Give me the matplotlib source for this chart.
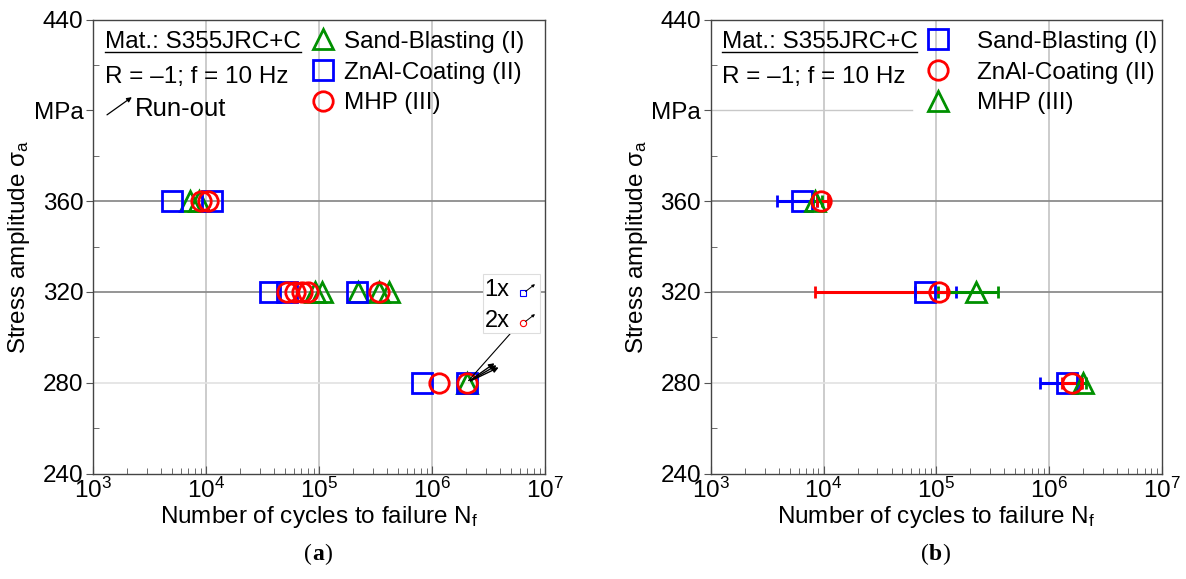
import numpy as np
import matplotlib
matplotlib.use("Agg")
import matplotlib.pyplot as plt
from matplotlib.lines import Line2D
from matplotlib.ticker import FixedLocator, LogLocator, NullFormatter
from matplotlib.offsetbox import TextArea, HPacker, AnchoredOffsetbox

plt.rcParams['font.family'] = ['Liberation Sans', 'DejaVu Sans']
plt.rcParams['mathtext.fontset'] = 'custom'
plt.rcParams['mathtext.rm'] = 'Liberation Sans'
plt.rcParams['mathtext.it'] = 'Liberation Sans'

# ---------------- data: panel (a) individual tests ----------------
a_sb_N = [7.2e3, 8.7e3, 9.2e4, 1.06e5, 2.22e5, 3.41e5, 4.18e5, 2.03e6]
a_sb_S = [360, 360, 320, 320, 320, 320, 320, 280]
a_zn_N = [5.0e3, 1.12e4, 3.68e4, 5.17e4, 2.15e5, 8.1e5, 2.03e6]
a_zn_S = [360, 360, 320, 320, 320, 280, 280]
a_mhp_N = [9.0e3, 1.05e4, 5.17e4, 6.14e4, 7.03e4, 8.04e4, 3.41e5, 1.16e6, 2.03e6]
a_mhp_S = [360, 360, 320, 320, 320, 320, 320, 280, 280]
runout_N = [2.03e6, 2.03e6, 2.03e6]
runout_S = [280, 280, 280]

# ---------------- data: panel (b) mean values with scatter ----------------
b_levels = [360, 320, 280]
b_sb_mean = [6.4e3, 7.9e4, 1.43e6]
b_sb_lo = [3.85e3, 6.5e4, 8.2e5]
b_sb_hi = [8.7e3, 1.5e5, 1.87e6]
b_zn_mean = [9.5e3, 1.06e5, 1.59e6]
b_zn_lo = [8.7e3, 8.4e3, 1.30e6]
b_zn_hi = [1.1e4, 1.25e5, 1.97e6]
b_mhp_mean = [8.4e3, 2.25e5, 2.0e6]
b_mhp_lo = [8.0e3, 1.04e5, 1.9e6]
b_mhp_hi = [9.6e3, 3.5e5, 2.1e6]

y_ticks = [240, 280, 320, 360, 400, 440]
y_ticklabels = ['240', '280', '320', '360', 'MPa', '440']

GREEN = '#009000'
BLUE = '#0000ff'
RED = '#ff0000'

FS_TICK = 17.5
FS_LABEL = 17.5
FS_TXT = 17.5
FS_LEG = 17.5

fig = plt.figure(figsize=(11.86, 5.79), dpi=100)
axA = fig.add_axes([0.0784, 0.1822, 0.3811, 0.7841])
axB = fig.add_axes([0.5993, 0.1822, 0.3805, 0.7841])

MS = 14
MEW = 2.0


def style_axes(ax):
    ax.set_xscale('log')
    ax.set_xlim(1e3, 1e7)
    ax.set_ylim(240, 440)
    ax.yaxis.set_major_locator(FixedLocator(y_ticks))
    ax.set_yticklabels(y_ticklabels)
    ax.yaxis.set_minor_locator(FixedLocator([260, 300, 340, 380, 420]))
    ax.xaxis.set_major_locator(LogLocator(base=10, numticks=10))
    ax.xaxis.set_minor_locator(LogLocator(base=10, subs=np.arange(2, 10), numticks=20))
    ax.xaxis.set_minor_formatter(NullFormatter())
    ax.tick_params(axis='both', which='major', labelsize=FS_TICK, color='#555555')
    ax.tick_params(axis='y', which='major', direction='out', length=5, pad=2)
    ax.tick_params(axis='y', which='minor', direction='in', length=4, color='#555555')
    ax.tick_params(axis='x', which='major', direction='in', length=6, pad=3)
    ax.tick_params(axis='x', which='minor', direction='in', length=4, color='#555555')
    for s in ax.spines.values():
        s.set_color('#444444')
        s.set_linewidth(1.0)
    for xv in [1e4, 1e5, 1e6]:
        ax.axvline(xv, color='#c8c8c8', lw=1.3, zorder=0)
    ax.axhline(360, color='#8c8c8c', lw=1.3, zorder=0)
    ax.axhline(320, color='#8c8c8c', lw=1.3, zorder=0)
    ax.axhline(280, color='#e2e2e2', lw=1.2, zorder=0)
    ax.set_xlabel('Number of cycles to failure N$_\\mathrm{f}$', fontsize=FS_LABEL, labelpad=1)
    ax.set_ylabel('Stress amplitude σ$_\\mathrm{a}$', fontsize=FS_LABEL, labelpad=1)


style_axes(axA)
style_axes(axB)
axB.axhline(400, xmin=0, xmax=0.445, color='#c8c8c8', lw=1.0, zorder=0)

# ---------- panel (a) ----------
mk = dict(ls='none', ms=MS, mew=MEW, mfc='none', zorder=3)
hA1, = axA.plot(a_sb_N, a_sb_S, marker='^', mec=GREEN, **mk)
hA2, = axA.plot(a_zn_N, a_zn_S, marker='s', mec=BLUE, **mk)
hA3, = axA.plot(a_mhp_N, a_mhp_S, marker='o', mec=RED, **mk)

# run-out arrows
for i, (n, s) in enumerate(zip(runout_N, runout_S)):
    axA.annotate('', xy=(n, s), xycoords='data',
                 xytext=(20 + 1.5 * i, 14 - 1.5 * i), textcoords='offset points',
                 arrowprops=dict(arrowstyle='<|-', color='black', lw=1.0,
                                 mutation_scale=8, shrinkA=0, shrinkB=3))

axA.legend([hA1, hA2, hA3],
           ['Sand-Blasting (I)', 'ZnAl-Coating (II)', 'MHP (III)'],
           loc='upper left', bbox_to_anchor=(0.481, 0.975), frameon=False,
           fontsize=FS_LEG, handlelength=1.0, handletextpad=0.4,
           labelspacing=0.36, borderpad=0, borderaxespad=0)

tA1 = axA.text(0.027, 0.951, 'Mat.: S355JRC+C', transform=axA.transAxes,
               fontsize=FS_TXT, va='center', ha='left')
axA.text(0.027, 0.874, 'R = \u20131; f = 10 Hz', transform=axA.transAxes,
         fontsize=FS_TXT, va='center', ha='left')
axA.annotate('', xy=(0.086, 0.829), xycoords='axes fraction',
             xytext=(0.031, 0.79), textcoords='axes fraction',
             arrowprops=dict(arrowstyle='-|>', color='black', lw=0.9, mutation_scale=7,
                             shrinkA=0, shrinkB=0))
axA.text(0.093, 0.803, 'Run-out', transform=axA.transAxes,
         fontsize=18.5, va='center', ha='left')

# 1x / 2x box
box = plt.Rectangle((0.862, 0.31), 0.128, 0.13, transform=axA.transAxes,
                    facecolor='white', edgecolor='#dddddd', lw=0.8, zorder=4)
axA.add_patch(box)
axA.text(0.866, 0.404, '1x', transform=axA.transAxes, fontsize=17, va='center', zorder=5)
axA.text(0.866, 0.337, '2x', transform=axA.transAxes, fontsize=17, va='center', zorder=5)
axA.plot([0.952], [0.397], marker='s', ms=4.5, mfc='none', mec=BLUE, mew=0.8,
         transform=axA.transAxes, zorder=5, clip_on=False)
axA.plot([0.952], [0.331], marker='o', ms=4.5, mfc='none', mec=RED, mew=0.8,
         transform=axA.transAxes, zorder=5, clip_on=False)
for yy in [0.397, 0.331]:
    axA.annotate('', xy=(0.978, yy + 0.02), xycoords='axes fraction',
                 xytext=(0.957, yy + 0.004), textcoords='axes fraction',
                 arrowprops=dict(arrowstyle='-|>', color='black', lw=0.7, mutation_scale=4,
                                 shrinkA=0, shrinkB=0), zorder=6)
axA.annotate('', xy=(runout_N[0], runout_S[0]), xycoords='data',
             xytext=(0.925, 0.31), textcoords='axes fraction',
             arrowprops=dict(arrowstyle='-', color='black', lw=0.8, shrinkA=0, shrinkB=2))

# ---------- panel (b) ----------
eb = dict(ls='none', ms=MS, mew=MEW, mfc='none', capsize=4, capthick=2.5,
          elinewidth=2.2, zorder=3)


def err(mean, lo, hi):
    m = np.array(mean)
    return [m - np.array(lo), np.array(hi) - m]


axB.errorbar(b_sb_mean, b_levels, xerr=err(b_sb_mean, b_sb_lo, b_sb_hi),
             marker='s', mec=BLUE, ecolor=BLUE, **eb)
axB.errorbar(b_mhp_mean, b_levels, xerr=err(b_mhp_mean, b_mhp_lo, b_mhp_hi),
             marker='^', mec=GREEN, ecolor=GREEN, **eb)
axB.errorbar(b_zn_mean, b_levels, xerr=err(b_zn_mean, b_zn_lo, b_zn_hi),
             marker='o', mec=RED, ecolor=RED, **eb)

lh1 = Line2D([], [], ls='none', marker='s', ms=MS, mew=MEW, mfc='none', mec=BLUE)
lh2 = Line2D([], [], ls='none', marker='o', ms=MS, mew=MEW, mfc='none', mec=RED)
lh3 = Line2D([], [], ls='none', marker='^', ms=MS, mew=MEW, mfc='none', mec=GREEN)
axB.legend([lh1, lh2, lh3], ['Sand-Blasting (I)', 'ZnAl-Coating (II)', 'MHP (III)'],
           loc='upper left', bbox_to_anchor=(0.476, 0.975), frameon=False,
           fontsize=FS_LEG, handlelength=1.0, handletextpad=1.1,
           labelspacing=0.36, borderpad=0, borderaxespad=0)

tB1 = axB.text(0.024, 0.951, 'Mat.: S355JRC+C', transform=axB.transAxes,
               fontsize=FS_TXT, va='center', ha='left')
axB.text(0.024, 0.874, 'R = \u20131; f = 10 Hz', transform=axB.transAxes,
         fontsize=FS_TXT, va='center', ha='left')

# captions "(a)" and "(b)" with bold letter
CAP = 17
for cx, lab in [(0.268, 'a'), (0.789, 'b')]:
    parts = [TextArea('(', textprops=dict(fontsize=CAP, family='Liberation Serif')),
             TextArea(lab, textprops=dict(fontsize=CAP, family='Liberation Serif', weight='bold')),
             TextArea(')', textprops=dict(fontsize=CAP, family='Liberation Serif'))]
    pk = HPacker(children=parts, pad=0, sep=0, align='baseline')
    ab = AnchoredOffsetbox(loc='center', child=pk, frameon=False, pad=0, borderpad=0,
                           bbox_to_anchor=(cx, 0.042), bbox_transform=fig.transFigure)
    fig.add_artist(ab)

# underline the material text
fig.canvas.draw()
r = fig.canvas.get_renderer()
for t in (tA1, tB1):
    bb = t.get_window_extent(r)
    inv = fig.transFigure.inverted()
    (x0, y0), (x1, y1) = inv.transform([(bb.x0, bb.y0), (bb.x1, bb.y0)])
    fig.add_artist(Line2D([x0, x1], [y0 + 0.001, y0 + 0.001], color='black', lw=1.0,
                          transform=fig.transFigure))

fig.savefig('out.png', dpi=100)
